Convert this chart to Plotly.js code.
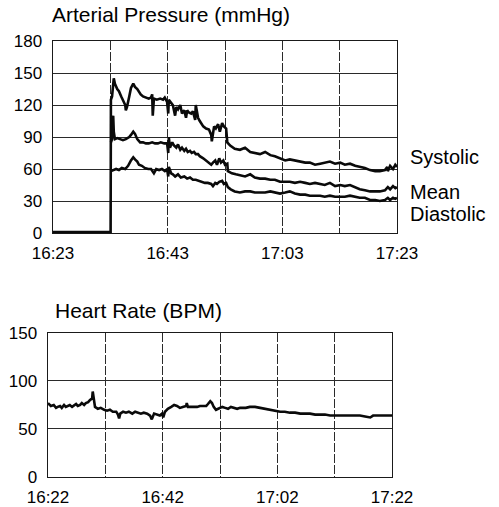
<!DOCTYPE html>
<html>
<head>
<meta charset="utf-8">
<script src="https://cdn.plot.ly/plotly-3.0.1.min.js"></script>
<style>html,body{margin:0;padding:0;background:#fff;}#chart{width:499px;height:507px;}</style>
</head>
<body>
<div id="chart"></div>
<script>
// Times are minutes after 16:00
const bpTicks = [23, 33, 43, 53, 63, 73, 83];
const bpTickText = ['16:23', '', '16:43', '', '17:03', '', '17:23'];
const bpYTicks = [0, 30, 60, 90, 120, 150, 180];

const hrTicks = [22, 32, 42, 52, 62, 72, 82];
const hrTickText = ['16:22', '', '16:42', '', '17:02', '', '17:22'];
const hrYTicks = [0, 50, 100, 150];

const seriesNames = ['Systolic', 'Mean', 'Diastolic'];

const systolicTime = [23, 33.05, 33.1, 33.3, 33.6, 33.8, 34.2, 34.5, 34.9, 35.2, 35.6, 35.7, 35.9, 36.3, 36.6, 37.0, 37.3, 37.7, 38.0, 38.3, 38.7, 39.2, 39.7, 40.1, 40.3, 40.4, 40.6, 41.1, 41.7, 42.2, 42.5, 42.9, 43.1, 43.2, 43.6, 43.9, 44.3, 44.5, 44.8, 45.2, 45.5, 45.9, 46.2, 46.4, 46.7, 47.1, 47.4, 47.8, 47.9, 48.3, 48.6, 49.2, 49.7, 50.2, 50.6, 50.7, 51.1, 51.4, 51.8, 52.1, 52.5, 52.8, 53.2, 53.4, 53.9, 54.7, 55.6, 56.5, 57.4, 58.2, 59.1, 60.0, 60.9, 61.7, 62.6, 63.5, 64.3, 65.2, 66.1, 67.0, 67.8, 68.7, 69.6, 70.4, 71.3, 72.2, 73.1, 73.9, 74.8, 75.7, 76.5, 77.4, 78.3, 79.2, 80.0, 80.9, 81.3, 81.4, 81.8, 82.3, 82.7, 83.0];
const systolicValue = [1, 1, 125, 128, 145, 140, 135, 133, 128, 125, 120, 115, 118, 128, 136, 140, 137, 135, 132, 130, 128, 127, 126, 127, 130, 110, 126, 125, 126, 125, 127, 123, 112, 125, 122, 120, 110, 118, 116, 120, 112, 115, 108, 115, 113, 112, 114, 106, 120, 108, 105, 100, 98, 97, 92, 86, 100, 98, 102, 95, 103, 100, 98, 85, 82, 79, 78, 80, 76, 75, 74, 76, 73, 72, 70, 68, 69, 68, 67, 66, 66, 64, 65, 66, 67, 65, 66, 64, 65, 63, 62, 61, 59, 58, 58, 59, 62, 58, 63, 60, 64, 62];

const meanTime = [33.1, 33.3, 33.5, 33.6, 33.8, 34.2, 34.7, 35.2, 35.7, 36.3, 36.6, 37.0, 37.3, 37.7, 38.2, 38.7, 39.2, 39.7, 40.3, 40.8, 41.3, 41.8, 42.4, 42.9, 43.1, 43.2, 43.4, 43.8, 44.1, 44.5, 44.8, 45.2, 45.5, 45.9, 46.2, 46.5, 46.9, 47.2, 47.6, 47.9, 48.3, 48.6, 49.2, 49.7, 50.2, 50.6, 50.9, 51.3, 51.6, 52.0, 52.3, 52.7, 53.0, 53.4, 53.5, 54.2, 54.9, 55.6, 56.5, 57.4, 58.2, 59.1, 60.0, 60.9, 61.7, 62.6, 63.5, 64.3, 65.2, 66.1, 67.0, 67.8, 68.7, 69.6, 70.4, 71.3, 72.2, 73.1, 73.9, 74.8, 75.7, 76.5, 77.4, 78.3, 79.2, 80.0, 80.9, 81.4, 81.8, 82.3, 82.7, 83.0];
const meanValue = [85, 88, 110, 95, 88, 89, 88, 87, 88, 90, 92, 95, 93, 88, 85, 85, 84, 84, 85, 84, 84, 85, 84, 84, 75, 90, 80, 85, 82, 80, 83, 78, 80, 77, 79, 76, 77, 75, 76, 74, 74, 72, 70, 68, 66, 64, 66, 68, 64, 70, 66, 68, 64, 65, 58, 56, 55, 54, 53, 55, 52, 51, 51, 50, 50, 48, 48, 48, 47, 48, 47, 46, 47, 46, 45, 47, 44, 45, 44, 45, 43, 41, 40, 39, 39, 39, 40, 43, 41, 44, 42, 43];

const diastolicTime = [33.1, 33.5, 34.0, 34.5, 35.0, 35.6, 36.1, 36.6, 37.0, 37.3, 37.7, 38.0, 38.5, 39.0, 39.6, 40.1, 40.6, 41.0, 41.5, 42.0, 42.5, 42.9, 43.1, 43.2, 43.6, 43.9, 44.3, 44.8, 45.3, 45.9, 46.4, 46.9, 47.4, 47.9, 48.5, 49.0, 49.5, 50.0, 50.6, 50.9, 51.3, 51.6, 52.0, 52.5, 52.8, 53.2, 53.5, 54.0, 54.7, 55.6, 56.5, 57.4, 58.2, 59.1, 60.0, 60.9, 61.7, 62.6, 63.5, 64.3, 65.2, 66.1, 67.0, 67.8, 68.7, 69.6, 70.4, 71.3, 72.2, 73.1, 73.9, 74.8, 75.7, 76.5, 77.4, 78.3, 79.2, 80.0, 80.9, 81.4, 81.8, 82.3, 82.7, 83.0];
const diastolicValue = [58, 59, 60, 59, 61, 60, 63, 68, 71, 69, 67, 64, 63, 61, 60, 60, 56, 60, 59, 60, 58, 60, 53, 62, 56, 55, 53, 55, 52, 53, 51, 52, 50, 50, 49, 48, 47, 47, 46, 44, 47, 46, 48, 49, 46, 47, 43, 41, 39, 38, 39, 39, 38, 38, 38, 39, 38, 37, 38, 39, 37, 36, 36, 35, 35, 35, 34, 35, 34, 34, 34, 35, 34, 33, 33, 31, 31, 30, 31, 33, 31, 33, 32, 33];

const heartTime = [22.0, 22.5, 23.0, 23.4, 23.7, 24.1, 24.4, 24.8, 25.1, 25.5, 25.8, 26.2, 26.5, 26.9, 27.2, 27.6, 27.9, 28.3, 28.6, 29.0, 29.3, 29.7, 29.8, 30.0, 30.2, 30.7, 31.2, 31.8, 32.3, 32.8, 33.3, 33.9, 34.2, 34.4, 34.6, 35.1, 35.6, 36.1, 36.7, 37.2, 37.7, 38.2, 38.7, 39.3, 39.8, 40.1, 40.5, 41.0, 41.5, 41.9, 42.1, 42.4, 42.9, 43.5, 44.0, 44.5, 45.0, 45.5, 46.1, 46.2, 46.4, 46.9, 47.5, 48.0, 48.5, 49.0, 49.6, 49.9, 50.3, 50.6, 50.9, 51.3, 51.7, 52.0, 52.4, 52.9, 53.4, 53.9, 54.4, 55.0, 55.5, 56.0, 56.5, 57.2, 58.1, 59.0, 59.9, 60.7, 61.6, 62.5, 63.3, 64.2, 65.1, 66.0, 66.8, 67.7, 68.6, 69.4, 70.3, 71.2, 72.1, 72.9, 73.8, 74.7, 75.5, 76.4, 77.3, 78.2, 78.7, 79.6, 80.8, 82.0];
const heartValue = [77, 74, 75, 72, 73, 74, 72, 75, 73, 74, 75, 73, 74, 76, 74, 75, 77, 75, 77, 78, 80, 82, 89, 80, 73, 71, 72, 70, 69, 70, 68, 68, 65, 61, 66, 68, 67, 68, 66, 68, 67, 66, 67, 66, 64, 60, 66, 65, 64, 66, 62, 68, 71, 73, 75, 74, 72, 73, 74, 77, 73, 73, 73, 73, 74, 74, 74, 76, 79, 77, 73, 70, 71, 72, 73, 72, 71, 73, 72, 71, 72, 72, 72, 73, 73, 72, 71, 70, 69, 68, 68, 67, 67, 66, 66, 66, 65, 65, 65, 64, 64, 64, 64, 64, 64, 64, 63, 62, 64, 64, 64, 64];

const FONT = 'Liberation Sans, Arial, Helvetica, sans-serif';
const lineStyle = {color: '#0a0a0a', width: 2.6};

const traces = [
  {x: systolicTime, y: systolicValue, name: seriesNames[0], xaxis: 'x', yaxis: 'y'},
  {x: meanTime, y: meanValue, name: seriesNames[1], xaxis: 'x', yaxis: 'y'},
  {x: diastolicTime, y: diastolicValue, name: seriesNames[2], xaxis: 'x', yaxis: 'y'},
  {x: heartTime, y: heartValue, name: 'Heart Rate', xaxis: 'x2', yaxis: 'y2'}
].map(t => Object.assign({type: 'scatter', mode: 'lines', line: lineStyle, hoverinfo: 'skip'}, t));

function xAx(domain, range, ticks, text, anchor) {
  return {domain: domain, range: range, anchor: anchor, tickmode: 'array', tickvals: ticks, ticktext: text,
    showgrid: true, gridcolor: '#2a2a2a', gridwidth: 1, griddash: '9px,2px', zeroline: false,
    showline: true, mirror: true, linecolor: '#1a1a1a', linewidth: 1.4, ticks: '', ticklabelstandoff: 4,
    tickfont: {family: FONT, size: 17, color: '#000'}, fixedrange: true};
}
function yAx(domain, range, ticks, anchor) {
  return {domain: domain, range: range, anchor: anchor, tickmode: 'array', tickvals: ticks,
    showgrid: true, gridcolor: '#2a2a2a', gridwidth: 1, zeroline: false,
    showline: true, mirror: true, linecolor: '#1a1a1a', linewidth: 1.4, ticks: '', ticklabelstandoff: 6,
    tickfont: {family: FONT, size: 17, color: '#000'}, fixedrange: true};
}

const layout = {
  width: 499, height: 507,
  margin: {l: 0, r: 0, t: 0, b: 0},
  paper_bgcolor: '#fff', plot_bgcolor: '#fff',
  showlegend: false,
  font: {family: FONT, color: '#000'},
  xaxis: xAx([0.1062, 0.7956], [23, 83], bpTicks, bpTickText, 'y'),
  yaxis: yAx([0.5404, 0.9191], [0, 180], bpYTicks, 'x'),
  xaxis2: xAx([0.0962, 0.7856], [22, 82], hrTicks, hrTickText, 'y2'),
  yaxis2: yAx([0.0592, 0.3432], [0, 150], hrYTicks, 'x2'),
  annotations: [
    {text: 'Arterial Pressure (mmHg)', xref: 'paper', yref: 'paper', x: 0.100, y: 0.971, xanchor: 'left', yanchor: 'middle', showarrow: false, font: {family: FONT, size: 21, color: '#000'}},
    {text: 'Heart Rate (BPM)', xref: 'paper', yref: 'paper', x: 0.106, y: 0.388, xanchor: 'left', yanchor: 'middle', showarrow: false, font: {family: FONT, size: 21, color: '#000'}},
    {text: seriesNames[0], xref: 'paper', yref: 'paper', x: 0.817, y: 0.6903, xanchor: 'left', yanchor: 'middle', showarrow: false, font: {family: FONT, size: 20, color: '#000'}},
    {text: seriesNames[1], xref: 'paper', yref: 'paper', x: 0.817, y: 0.6213, xanchor: 'left', yanchor: 'middle', showarrow: false, font: {family: FONT, size: 20, color: '#000'}},
    {text: seriesNames[2], xref: 'paper', yref: 'paper', x: 0.817, y: 0.5779, xanchor: 'left', yanchor: 'middle', showarrow: false, font: {family: FONT, size: 20, color: '#000'}}
  ]
};

Plotly.newPlot('chart', traces, layout, {staticPlot: true, displayModeBar: false});
</script>
</body>
</html>
